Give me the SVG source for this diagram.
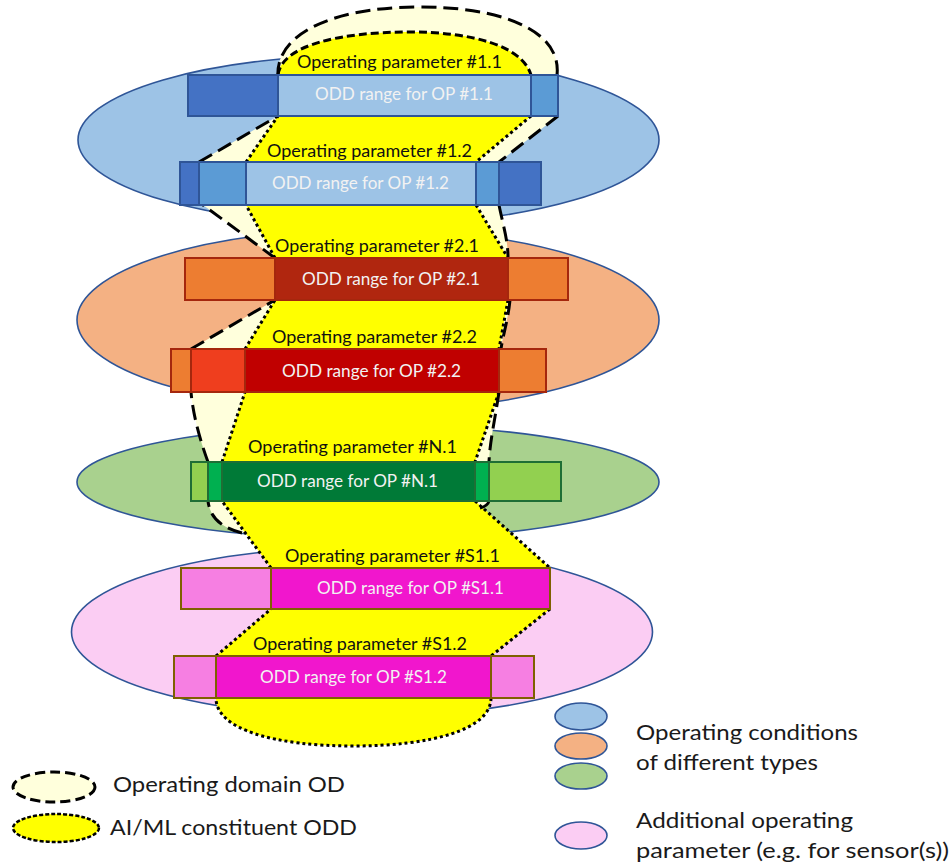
<svg xmlns="http://www.w3.org/2000/svg" width="951" height="866" viewBox="0 0 951 866">
  <style>
    .cond { stroke: #2F5597; stroke-width: 1.6; }
    .blue { fill: #9DC3E6; }
    .orange { fill: #F4B183; }
    .green { fill: #A9D18E; }
    .pink { fill: #FBCDF3; }
    .bar-b rect { stroke: #2F5597; stroke-width: 2; }
    .bar-o rect { stroke: #A5270D; stroke-width: 2; }
    .bar-g rect { stroke: #1F6E35; stroke-width: 2; }
    .bar-p rect { stroke: #7F6000; stroke-width: 2; }
    .op { font-family: Lato, "Liberation Sans", sans-serif; font-size: 16.5px; fill: #111111; }
    .range { font-family: Lato, "Liberation Sans", sans-serif; font-size: 16.5px; fill: #F2F2F2; }
    .leg { font-family: Lato, "Liberation Sans", sans-serif; font-size: 21.5px; fill: #1A1A1A; }
    .od-line { fill: none; stroke: #000000; stroke-width: 3; stroke-dasharray: 15 7; }
    .odd-dots { fill: none; stroke: #000000; stroke-width: 3; stroke-dasharray: 3 3; }
    .odd-top { fill: none; stroke: #000000; stroke-width: 3; stroke-dasharray: 8 4; }
  </style>

  <!-- operating condition types -->
  <g id="cond-blue"><ellipse class="cond blue" cx="368.5" cy="140" rx="290.5" ry="85"/></g>
  <g id="cond-orange"><ellipse class="cond orange" cx="368" cy="320" rx="291" ry="91"/></g>
  <g id="cond-green"><ellipse class="cond green" cx="368" cy="482" rx="291" ry="57"/></g>
  <g id="cond-pink"><ellipse class="cond pink" cx="362" cy="632" rx="290.5" ry="85"/></g>

  <!-- operating domain OD -->
  <g id="od">
    <path fill="#FFFFDC" d="M 242,533 C 222,528 210,518 208,501 L 208,462 C 200,440 193,415 191,392 L 191,349 L 275,300 L 275,258 L 203,205 L 199,162 L 278,116 L 278,77 C 275,35 330,8 415,7 C 500,6 562,30 557,75 L 558,116 L 499,162 L 499,205 C 503,225 508,240 508,258 L 510,300 C 508,320 503,335 501,349 L 499,392 C 495,420 490,440 489,462 L 489,501 C 488,505 484,507 480,508 Z"/>
  </g>

  <!-- AI/ML constituent ODD -->
  <g id="odd">
    <path fill="#FFFF00" d="M 278,75 C 282,45 340,32 410,32 C 470,32 522,45 531,75 L 531,116 L 476,162 L 476,205 L 508,258 L 508,300 L 499,349 L 499,392 L 475,462 L 475,501 L 550,568 L 550,609 L 491,656 L 491,698 C 491,730 430,746 353,746 C 276,746 216,730 216,698 L 216,656 L 271,609 L 271,568 L 222,501 L 222,462 L 245,392 L 245,349 L 275,300 L 275,258 L 246,205 L 246,162 L 278,116 Z"/>
    <path class="odd-top" d="M 278,75 C 282,45 340,32 410,32 C 470,32 522,45 531,75"/>
    <path class="odd-dots" d="M 531,116 L 476,162 M 476,205 L 508,258 M 508,300 L 499,349 M 499,392 L 475,462 M 475,501 L 550,568 M 550,609 L 491,656 M 491,698 C 491,730 430,746 353,746 C 276,746 216,730 216,698 M 216,656 L 271,609 M 271,568 L 222,501 M 222,462 L 245,392 M 245,349 L 275,300 M 275,258 L 246,205 M 246,162 L 278,116"/>
  </g>

  <!-- OD outline where it departs from the ODD -->
  <g id="od-outline">
    <path class="od-line" d="M 242,533 C 222,528 210,518 208,501 M 208,462 C 200,440 193,415 191,392 M 191,349 L 275,300 M 275,258 L 203,205 M 199,162 L 278,116 M 278,77 C 275,35 330,8 415,7 C 500,6 562,30 557,75 M 558,116 L 499,162 M 499,205 C 503,225 508,240 508,258 M 510,300 C 508,320 503,335 501,349 M 499,392 C 495,420 490,440 489,462 M 489,501 C 488,505 484,507 480,508"/>
  </g>

  <!-- operating parameter bars -->
  <g id="op-1-1" class="bar-b">
    <rect x="188" y="75" width="90" height="41" fill="#4472C4"/>
    <rect x="278" y="75" width="253" height="41" fill="#9DC3E6"/>
    <rect x="531" y="75" width="27" height="41" fill="#5B9BD5"/>
    <text class="op" x="297" y="68" textLength="205" lengthAdjust="spacingAndGlyphs">Operating parameter #1.1</text>
    <text class="range" x="315" y="100" textLength="178" lengthAdjust="spacingAndGlyphs">ODD range for OP #1.1</text>
  </g>
  <g id="op-1-2" class="bar-b">
    <rect x="180" y="162" width="19" height="43" fill="#4472C4"/>
    <rect x="199" y="162" width="47" height="43" fill="#5B9BD5"/>
    <rect x="246" y="162" width="230" height="43" fill="#9DC3E6"/>
    <rect x="476" y="162" width="23" height="43" fill="#5B9BD5"/>
    <rect x="499" y="162" width="42" height="43" fill="#4472C4"/>
    <text class="op" x="267" y="157" textLength="205" lengthAdjust="spacingAndGlyphs">Operating parameter #1.2</text>
    <text class="range" x="272" y="189" textLength="177" lengthAdjust="spacingAndGlyphs">ODD range for OP #1.2</text>
  </g>
  <g id="op-2-1" class="bar-o">
    <rect x="185" y="258" width="90" height="42" fill="#ED7D31"/>
    <rect x="275" y="258" width="233" height="42" fill="#B0260F"/>
    <rect x="508" y="258" width="60" height="42" fill="#ED7D31"/>
    <text class="op" x="275" y="252" textLength="204" lengthAdjust="spacingAndGlyphs">Operating parameter #2.1</text>
    <text class="range" x="302" y="285" textLength="178" lengthAdjust="spacingAndGlyphs">ODD range for OP #2.1</text>
  </g>
  <g id="op-2-2" class="bar-o">
    <rect x="171" y="349" width="20" height="43" fill="#ED7D31"/>
    <rect x="191" y="349" width="54" height="43" fill="#EF3E1E"/>
    <rect x="245" y="349" width="254" height="43" fill="#C00000"/>
    <rect x="499" y="349" width="47" height="43" fill="#ED7D31"/>
    <text class="op" x="272" y="343" textLength="205" lengthAdjust="spacingAndGlyphs">Operating parameter #2.2</text>
    <text class="range" x="282" y="377" textLength="179" lengthAdjust="spacingAndGlyphs">ODD range for OP #2.2</text>
  </g>
  <g id="op-n-1" class="bar-g">
    <rect x="191" y="462" width="17" height="39" fill="#92D050"/>
    <rect x="208" y="462" width="14" height="39" fill="#00B050"/>
    <rect x="222" y="462" width="253" height="39" fill="#007A37"/>
    <rect x="475" y="462" width="14" height="39" fill="#00B050"/>
    <rect x="489" y="462" width="72" height="39" fill="#92D050"/>
    <text class="op" x="248" y="453" textLength="209" lengthAdjust="spacingAndGlyphs">Operating parameter #N.1</text>
    <text class="range" x="257" y="487" textLength="181" lengthAdjust="spacingAndGlyphs">ODD range for OP #N.1</text>
  </g>
  <g id="op-s1-1" class="bar-p">
    <rect x="181" y="568" width="90" height="41" fill="#F67FE2"/>
    <rect x="271" y="568" width="279" height="41" fill="#F116CD"/>
    <text class="op" x="285" y="562" textLength="215" lengthAdjust="spacingAndGlyphs">Operating parameter #S1.1</text>
    <text class="range" x="317" y="594" textLength="187" lengthAdjust="spacingAndGlyphs">ODD range for OP #S1.1</text>
  </g>
  <g id="op-s1-2" class="bar-p">
    <rect x="174" y="656" width="42" height="42" fill="#F67FE2"/>
    <rect x="216" y="656" width="275" height="42" fill="#F116CD"/>
    <rect x="491" y="656" width="43" height="42" fill="#F67FE2"/>
    <text class="op" x="253" y="650" textLength="214" lengthAdjust="spacingAndGlyphs">Operating parameter #S1.2</text>
    <text class="range" x="260" y="683" textLength="187" lengthAdjust="spacingAndGlyphs">ODD range for OP #S1.2</text>
  </g>

  <!-- legend -->
  <g id="legend-od">
    <ellipse cx="54" cy="787" rx="41" ry="15" fill="#FFFFDC" stroke="#000000" stroke-width="3" stroke-dasharray="10 5"/>
    <text class="leg" x="113" y="792" textLength="232" lengthAdjust="spacingAndGlyphs">Operating domain OD</text>
  </g>
  <g id="legend-odd">
    <ellipse cx="56" cy="828" rx="43" ry="14" fill="#FFFF00" stroke="#000000" stroke-width="2.5" stroke-dasharray="4 2"/>
    <text class="leg" x="110" y="835" textLength="247" lengthAdjust="spacingAndGlyphs">AI/ML constituent ODD</text>
  </g>
  <g id="legend-conditions">
    <ellipse class="cond blue" cx="581" cy="716.5" rx="26" ry="13.5" stroke-width="2"/>
    <ellipse class="cond orange" cx="581" cy="746" rx="26" ry="13" stroke-width="2"/>
    <ellipse class="cond green" cx="581" cy="776" rx="26" ry="13" stroke-width="2"/>
    <text class="leg" x="636" y="740" textLength="222" lengthAdjust="spacingAndGlyphs">Operating conditions</text>
    <text class="leg" x="636" y="770" textLength="182" lengthAdjust="spacingAndGlyphs">of different types</text>
  </g>
  <g id="legend-additional">
    <ellipse class="cond pink" cx="581" cy="835.5" rx="26" ry="13.5" stroke-width="2"/>
    <text class="leg" x="636" y="828" textLength="217" lengthAdjust="spacingAndGlyphs">Additional operating</text>
    <text class="leg" x="636" y="858" textLength="313" lengthAdjust="spacingAndGlyphs">parameter (e.g. for sensor(s))</text>
  </g>
</svg>
